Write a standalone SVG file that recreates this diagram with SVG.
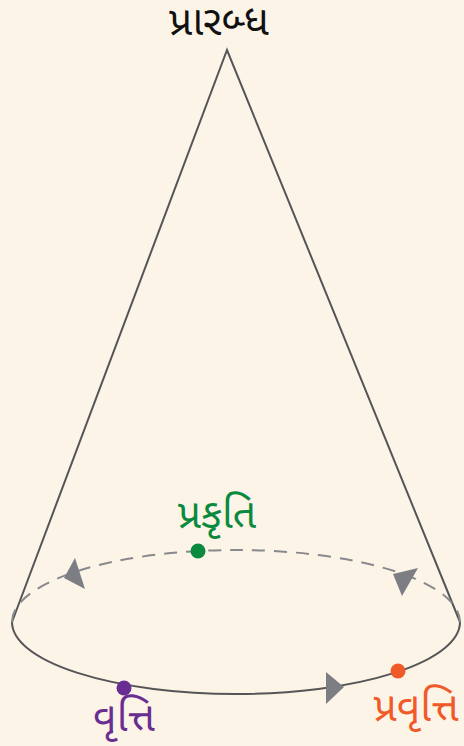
<svg xmlns="http://www.w3.org/2000/svg" width="464" height="746" viewBox="0 0 464 746">
<style>
.solid{fill:none;stroke:#555558;stroke-width:2}
.dash{fill:none;stroke:#88898c;stroke-width:2;stroke-dasharray:13 9}
.arr{fill:#7d7e83}
text{font-family:"Noto Sans Gujarati","Noto Sans",sans-serif;font-size:41px;text-anchor:middle}
</style>
<rect width="464" height="746" fill="#fdf4e8"/>
<g id="connectors">
<path class="solid" d="M12,622 L227,50 L460,622"/>
<path class="dash" d="M12,622 A224,72 0 0 1 460,622"/>
<path class="solid" d="M12,622 A224,72 0 0 0 460,622"/>
<polygon class="arr" points="75,558 64,578 85,589"/>
<polygon class="arr" points="393,574 418,568 402,596"/>
<polygon class="arr" points="326,672 344,687 326,704"/>
</g>
<g id="prarabdh"><text x="219" y="35" fill="#111">પ્રારબ્ધ</text></g>
<g id="prakruti"><circle cx="198" cy="551" r="7.5" fill="#0a8a3f"/><text x="217" y="528" fill="#0a8a3f">પ્રકૃતિ</text></g>
<g id="vrutti"><circle cx="124" cy="688" r="7.5" fill="#6a2d91"/><text x="124" y="731" fill="#6a2d91">વૃત્તિ</text></g>
<g id="pravrutti"><circle cx="398" cy="671" r="7.5" fill="#f05a28"/><text x="416" y="721" fill="#f05a28">પ્રવૃત્તિ</text></g>
</svg>
